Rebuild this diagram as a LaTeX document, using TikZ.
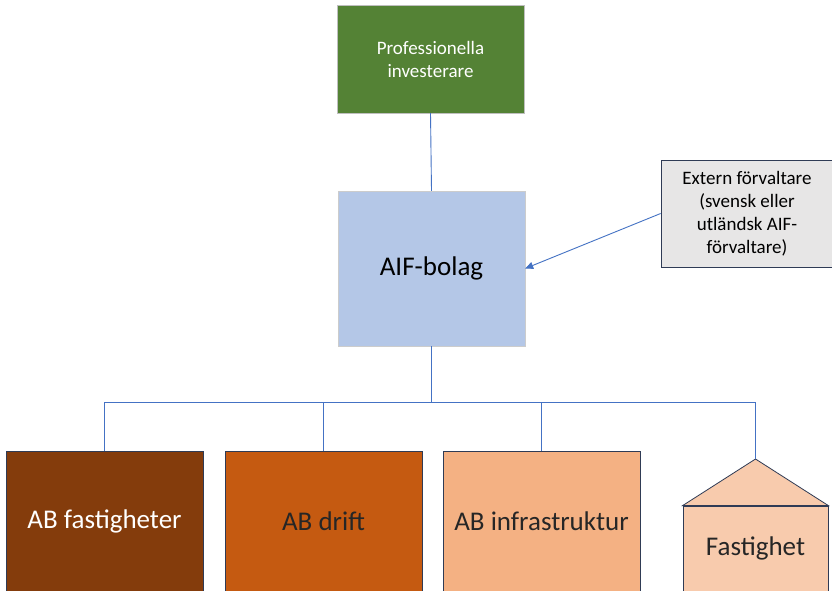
\documentclass[tikz,border=0pt]{standalone}
\usepackage{fontspec}
\setmainfont{Carlito}
\usetikzlibrary{arrows.meta,positioning}

\definecolor{invgreen}{HTML}{548235}
\definecolor{aifblue}{HTML}{B4C7E7}
\definecolor{extgrey}{HTML}{E7E6E6}
\definecolor{brownA}{HTML}{843C0C}
\definecolor{brownB}{HTML}{C55A11}
\definecolor{brownC}{HTML}{F4B183}
\definecolor{brownD}{HTML}{F8CBAD}
\definecolor{linkblue}{HTML}{4472C4}
\definecolor{navy}{HTML}{2F3B55}

\begin{document}
\begin{tikzpicture}[
  x=1pt, y=-1pt,
  topbox/.style = {draw=black!25, fill=invgreen, text=white, align=center, inner sep=0pt,
    minimum width=187pt, minimum height=108pt, font=\fontsize{19}{23}\selectfont},
  fundbox/.style = {draw=black!20, fill=aifblue, align=center, inner sep=0pt,
    minimum width=187pt, minimum height=155pt, font=\fontsize{27}{31}\selectfont},
  extbox/.style = {draw=navy, thick, fill=extgrey, align=center, inner sep=0pt,
    minimum width=172pt, minimum height=107pt, font=\fontsize{19}{23}\selectfont},
  subbox/.style = {draw=navy, thick, align=center, inner sep=0pt,
    minimum width=197pt, minimum height=140pt, font=\fontsize{27}{31}\selectfont},
  link/.style = {draw=linkblue, line width=0.9pt},
  arr/.style = {link, -{Triangle[length=8pt, width=7pt]}}
]
\clip (0,0) rectangle (832,590);
\fill[white] (0,0) rectangle (832,590);

\node[topbox] (inv) at (430.5,59) {Professionella\\investerare};
\node[fundbox] (aif) at (431.5,268.5) {AIF-bolag};
\node[extbox] (ext) at (747,213.5) {Extern förvaltare\\(svensk eller\\utländsk AIF-\\förvaltare)};

\node[subbox, fill=brownA, text=white] (abf) at (104.5,521) {\raisebox{-3pt}{AB fastigheter}};
\node[subbox, fill=brownB, text=black!85] (abd) at (323.5,521) {\raisebox{-3pt}{AB drift}};
\node[subbox, fill=brownC, text=black!85] (abi) at (541.5,521) {\raisebox{-3pt}{AB infrastruktur}};

% house shape
\node[subbox, fill=brownD, text=black!85, minimum width=145pt, minimum height=85pt] (fast) at (755.5,548.5) {Fastighet};
\coordinate (roof) at (755.5,459);
\filldraw[draw=navy, thick, fill=brownD] (fast.north west) -- (roof) -- (fast.north east) -- cycle;

\draw[link] (inv.south) -- (aif.north);
\draw[arr] (ext.west) -- (aif.east);
\draw[link, line width=1.3pt] (aif.south) -- ++(0,56) coordinate (split);
\draw[link] (split) -| (abf.north);
\draw[link] (split) -| (abd.north);
\draw[link] (split) -| (abi.north);
\draw[link] (split) -| (roof);
\end{tikzpicture}
\end{document}
